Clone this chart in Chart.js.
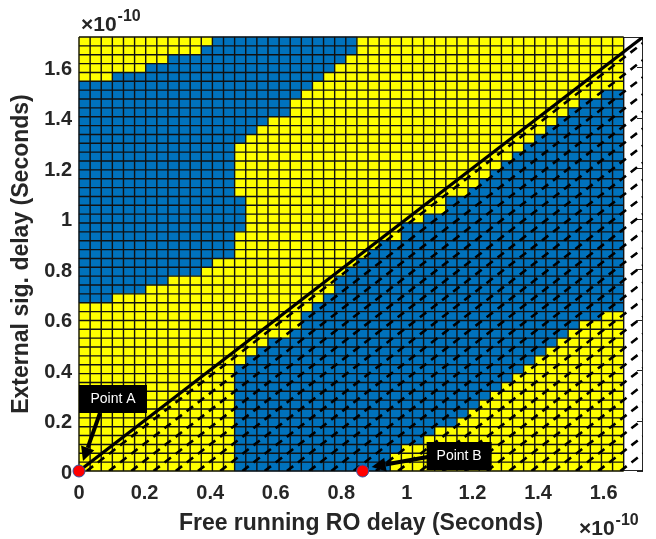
<!DOCTYPE html>
<html>
<head>
<meta charset="utf-8">
<script src="https://cdn.jsdelivr.net/npm/chart.js@4.4.1/dist/chart.umd.min.js"></script>
<style>
html, body { margin: 0; padding: 0; background: #fff; }
</style>
</head>
<body>
<canvas id="lockChart" width="656" height="539"></canvas>
<script>
// axis ranges and cell size (units of 1e-10 s)
const xMax = 1.72, yMax = 1.72;
const xStep = 0.0339, yStep = 0.0351;
const nCols = 49;
const xTicks = [0, 0.2, 0.4, 0.6, 0.8, 1, 1.2, 1.4, 1.6];
const yTicks = [0, 0.2, 0.4, 0.6, 0.8, 1, 1.2, 1.4, 1.6];

// blue cells per row, top row first, as column index ranges (null = none)
const blobFrom = [12, 11, 8, 6, 3,
  0, 0, 0, 0, 0, 0, 0, 0, 0, 0, 0, 0, 0, 0, 0, 0, 0, 0, 0, 0, 0, 0, 0, 0, 0,
  null, null, null, null, null, null, null, null, null, null, null, null, null, null, null, null, null, null, null];
const blobTo = [24, 24, 23, 22, 21, 20, 19, 18, 18, 16, 15, 14,
  13, 13, 13, 13, 13, 13, 14, 14, 14, 14, 13, 13, 13, 11, 10, 7, 5, 2,
  null, null, null, null, null, null, null, null, null, null, null, null, null, null, null, null, null, null, null];
const bandFrom = [null, null, null, null, null, null,
  47, 45, 44, 43, 42, 41, 40, 39, 38, 37, 36, 35, 33, 33, 31, 29, 29, 27, 26, 25,
  24, 23, 23, 22, 21, 20, 20, 19, 17, 16, 15,
  14, 14, 14, 14, 14, 14, 14, 14, 14, 14, 14, 14];
const bandTo = [null, null, null, null, null, null,
  48, 48, 48, 48, 48, 48, 48, 48, 48, 48, 48, 48, 48, 48, 48, 48, 48, 48, 48, 48, 48, 48, 48, 48, 48,
  46, 44, 43, 42, 41, 40, 39, 38, 37, 36, 35, 34, 33, 31, 30, 28, 27, 27];

const diagonal = [{x: 0, y: 0}, {x: xMax, y: yMax}];
const points = [{x: 0, y: 0}, {x: 0.865, y: 0}];
const pointNames = ['Point A', 'Point B'];

const yellow = '#ffff00', blue = '#0072bd', ink = '#262626';
const fontFam = "'Liberation Sans', Arial, sans-serif";
Chart.defaults.font.family = fontFam;

function isBlue(t, c) {
  if (blobFrom[t] !== null && c >= blobFrom[t] && c <= blobTo[t]) return true;
  if (bandFrom[t] !== null && c >= bandFrom[t] && c <= bandTo[t]) return true;
  return false;
}

const heatmap = {
  id: 'heatmap',
  beforeDatasetsDraw(chart) {
    const {ctx, chartArea: a, scales: {x, y}} = chart;
    const nRows = blobFrom.length;
    ctx.save();
    // axes box
    ctx.strokeStyle = ink;
    ctx.lineWidth = 1;
    ctx.strokeRect(a.left + 0.5, a.top + 0.5, a.right - a.left - 1, a.bottom - a.top - 1);
    ctx.beginPath();
    yTicks.forEach(v => {
      const py = Math.round(y.getPixelForValue(v)) + 0.5;
      ctx.moveTo(a.right - 6, py);
      ctx.lineTo(a.right, py);
    });
    ctx.stroke();

    // cells
    for (let t = 0; t < nRows; t++) {
      const r = nRows - 1 - t;
      const top = y.getPixelForValue((r + 1) * yStep);
      const bot = y.getPixelForValue(r * yStep);
      for (let c = 0; c < nCols; c++) {
        const l = x.getPixelForValue(c * xStep);
        const rt = x.getPixelForValue((c + 1) * xStep);
        ctx.fillStyle = isBlue(t, c) ? blue : yellow;
        ctx.fillRect(l - 0.3, top - 0.3, rt - l + 0.6, bot - top + 0.6);
      }
    }
    // cell edges
    ctx.strokeStyle = '#111';
    ctx.lineWidth = 1.4;
    ctx.beginPath();
    const gx0 = x.getPixelForValue(0), gx1 = x.getPixelForValue(nCols * xStep);
    const gy0 = y.getPixelForValue(0), gy1 = y.getPixelForValue(nRows * yStep);
    for (let c = 0; c <= nCols; c++) {
      const px = x.getPixelForValue(c * xStep);
      ctx.moveTo(px, gy0);
      ctx.lineTo(px, gy1);
    }
    for (let r = 0; r <= nRows; r++) {
      const py = y.getPixelForValue(r * yStep);
      ctx.moveTo(gx0, py);
      ctx.lineTo(gx1, py);
    }
    ctx.stroke();

    // dashed hatch below the diagonal
    ctx.beginPath();
    ctx.moveTo(x.getPixelForValue(0), y.getPixelForValue(0));
    ctx.lineTo(x.getPixelForValue(xMax), y.getPixelForValue(0));
    ctx.lineTo(x.getPixelForValue(xMax), y.getPixelForValue(yMax));
    ctx.closePath();
    ctx.clip();
    ctx.strokeStyle = '#000';
    ctx.lineWidth = 2.6;
    ctx.setLineDash([8, 6]);
    const gap = 2 * xStep;
    for (let x0 = 0.7 * xStep; x0 < xMax; x0 += gap) {
      ctx.beginPath();
      ctx.moveTo(x.getPixelForValue(x0), y.getPixelForValue(0));
      ctx.lineTo(x.getPixelForValue(xMax), y.getPixelForValue(xMax - x0));
      ctx.stroke();
    }
    ctx.restore();
  }
};

function arrow(ctx, x1, y1, x2, y2) {
  const ang = Math.atan2(y2 - y1, x2 - x1);
  const hl = 14, hw = 7;
  const bx = x2 - hl * Math.cos(ang), by = y2 - hl * Math.sin(ang);
  ctx.beginPath();
  ctx.moveTo(x1, y1);
  ctx.lineTo(bx, by);
  ctx.lineWidth = 4;
  ctx.stroke();
  ctx.beginPath();
  ctx.moveTo(x2, y2);
  ctx.lineTo(bx + hw * Math.sin(ang), by - hw * Math.cos(ang));
  ctx.lineTo(bx - hw * Math.sin(ang), by + hw * Math.cos(ang));
  ctx.closePath();
  ctx.fill();
}

// label boxes and arrows, drawn just before the red points
const callouts = {
  id: 'callouts',
  beforeDatasetDraw(chart, args) {
    if (args.index !== 0) return;
    const {ctx, scales: {x, y}} = chart;
    const layout = [
      {box: [0, -86, 68, 28], from: [21, -58], to: [4, -10]},
      {box: [64, -29, 65, 28], from: [65, -14], to: [9, -4]}
    ];
    ctx.save();
    ctx.fillStyle = '#000';
    ctx.strokeStyle = '#000';
    points.forEach((p, i) => {
      const px = x.getPixelForValue(p.x), py = y.getPixelForValue(p.y);
      const L = layout[i];
      ctx.fillStyle = '#000';
      ctx.fillRect(px + L.box[0], py + L.box[1], L.box[2], L.box[3]);
      arrow(ctx, px + L.from[0], py + L.from[1], px + L.to[0], py + L.to[1]);
      ctx.fillStyle = '#fff';
      ctx.font = '14px ' + fontFam;
      ctx.textAlign = 'center';
      ctx.textBaseline = 'middle';
      ctx.fillText(pointNames[i], px + L.box[0] + L.box[2] / 2, py + L.box[1] + L.box[3] / 2);
    });
    ctx.restore();
  }
};

// the x10^-10 exponent labels
const exponents = {
  id: 'exponents',
  afterDraw(chart) {
    const {ctx, chartArea: a} = chart;
    ctx.save();
    ctx.fillStyle = ink;
    ctx.textBaseline = 'alphabetic';
    ctx.textAlign = 'left';
    [[a.left + 2, 31], [a.right - 64, 535]].forEach(([ex, ey]) => {
      ctx.font = 'bold 21px ' + fontFam;
      ctx.fillText('\u00d710', ex, ey);
      const w = ctx.measureText('\u00d710').width;
      ctx.font = 'bold 16px ' + fontFam;
      ctx.fillText('-10', ex + w + 1, ey - 10);
    });
    ctx.restore();
  }
};

const tickFont = {size: 20, weight: 'bold'};
const titleFont = {size: 23, weight: 'bold'};

new Chart(document.getElementById('lockChart'), {
  type: 'scatter',
  data: {
    datasets: [
      {
        type: 'scatter',
        data: points,
        pointRadius: 6,
        pointBackgroundColor: '#ff0000',
        pointBorderColor: '#3050a0',
        pointBorderWidth: 1,
        clip: false
      },
      {
        type: 'line',
        data: diagonal,
        borderColor: '#000',
        borderWidth: 3.2,
        pointRadius: 0,
        showLine: true,
        fill: false
      }
    ]
  },
  options: {
    responsive: false,
    animation: false,
    layout: {padding: {top: 37, right: 13, left: 0, bottom: 0}},
    plugins: {legend: {display: false}, tooltip: {enabled: false}},
    scales: {
      x: {
        type: 'linear', min: 0, max: xMax,
        afterFit: s => { s.height = 68; },
        afterBuildTicks: s => { s.ticks = xTicks.map(v => ({value: v})); },
        grid: {display: false, drawTicks: false},
        border: {display: false},
        ticks: {padding: 10, maxRotation: 0, autoSkip: false, font: tickFont, color: ink,
          callback: v => String(v)},
        title: {display: true, text: 'Free running RO delay (Seconds)', font: titleFont,
          color: ink, padding: {top: 0, bottom: 2}}
      },
      y: {
        type: 'linear', min: 0, max: yMax,
        afterFit: s => { s.width = 79; },
        afterBuildTicks: s => { s.ticks = yTicks.map(v => ({value: v})); },
        grid: {display: false, drawTicks: false},
        border: {display: false},
        ticks: {padding: 7, labelOffset: 2, autoSkip: false, font: tickFont, color: ink,
          callback: v => String(v)},
        title: {display: true, text: 'External sig. delay (Seconds)', font: titleFont,
          color: ink, padding: {top: 8, bottom: 0}}
      }
    }
  },
  plugins: [heatmap, callouts, exponents]
});
</script>
</body>
</html>
